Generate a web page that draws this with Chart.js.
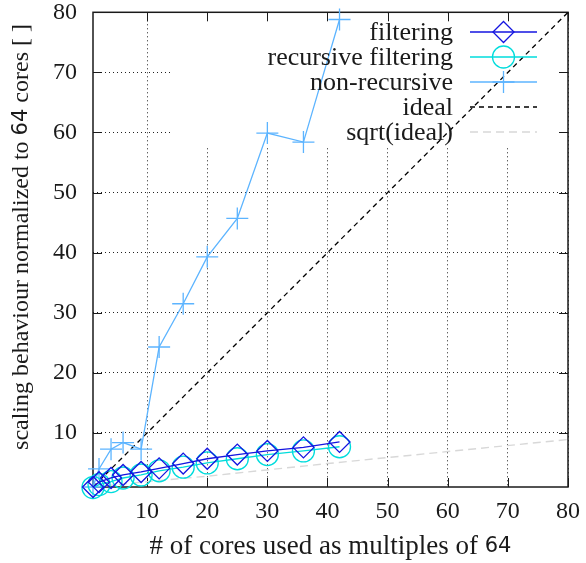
<!DOCTYPE html>
<html>
<head>
<meta charset="utf-8">
<script src="https://cdn.jsdelivr.net/npm/chart.js"></script>
<style>
  html, body { margin: 0; padding: 0; background: #fff; }
  #wrap { width: 586px; height: 563px; }
</style>
</head>
<body>
<div id="wrap"><canvas id="scaling" width="586" height="563"></canvas></div>
<script>
// cores used, as multiples of 64
const cores = [1, 2, 4, 6, 9, 12, 16, 20, 25, 30, 36, 42]
const filtering = [1, 1.8, 2.5, 3.0, 3.5, 4.1, 4.9, 5.7, 6.4, 7.0, 7.6, 8.5]
const recursiveFiltering = [0.9, 1.4, 1.9, 2.5, 3.0, 3.7, 4.3, 5.0, 5.7, 6.4, 7.0, 7.7]
const nonRecursive = [1, 4, 7.3, 8.4, 7.3, 24.3, 31.5, 39.3, 45.7, 59.9, 58.4, 78.8]

// reference lines
const idealX = [1, 80]
const idealY = [1, 80]
const sqrtX = [1, 10, 20, 40, 60, 80]
const sqrtY = [1, 1.9, 2.8, 4.9, 6.9, 8.9]

const xTicks = [10, 20, 30, 40, 50, 60, 70, 80]
const yTicks = [10, 20, 30, 40, 50, 60, 70, 80]

const serif = '"Liberation Serif", "Times New Roman", serif'
const sans = '"DejaVu Sans", sans-serif'
const ink = "#1a1a1a"

const toPoints = (xs, ys) => xs.map((x, i) => ({ x, y: ys[i] }))

const series = (label, color, data, extra = {}) => ({
  label,
  data,
  borderColor: color,
  pointBorderColor: color,
  backgroundColor: "rgba(0,0,0,0)",
  pointBackgroundColor: "rgba(0,0,0,0)",
  borderWidth: 1.3,
  pointBorderWidth: 1.3,
  tension: 0,
  clip: false,
  ...extra,
})

// blanks the grid behind the key, then draws the frame and inward ticks
const framePlugin = {
  id: "frame",
  beforeDatasetsDraw(chart) {
    const { ctx, chartArea: a, scales } = chart
    ctx.save()
    ctx.fillStyle = "#fff"
    ctx.fillRect(170, a.top + 1, a.right - 171, 145 - a.top)

    ctx.strokeStyle = ink
    ctx.lineWidth = 1.5
    ctx.strokeRect(a.left, a.top, a.right - a.left, a.bottom - a.top)

    ctx.lineWidth = 1
    ctx.beginPath()
    xTicks.forEach((v) => {
      const px = Math.round(scales.x.getPixelForValue(v)) + 0.5
      ctx.moveTo(px, a.bottom)
      ctx.lineTo(px, a.bottom - 9)
      ctx.moveTo(px, a.top)
      ctx.lineTo(px, a.top + 9)
    })
    yTicks.forEach((v) => {
      const py = Math.round(scales.y.getPixelForValue(v)) + 0.5
      ctx.moveTo(a.left, py)
      ctx.lineTo(a.left + 9, py)
      ctx.moveTo(a.right, py)
      ctx.lineTo(a.right - 9, py)
    })
    ctx.stroke()
    ctx.restore()
  },
}

// gnuplot style key: text right aligned, sample on the right
const keyPlugin = {
  id: "key",
  afterDatasetsDraw(chart) {
    const { ctx } = chart
    ctx.save()
    ctx.font = `26px ${serif}`
    ctx.textAlign = "right"
    ctx.textBaseline = "middle"
    chart.data.datasets.forEach((ds, i) => {
      const y = 32 + i * 25
      ctx.fillStyle = ink
      ctx.fillText(ds.label, 453, y + 1)
      ctx.strokeStyle = ds.borderColor
      ctx.lineWidth = ds.borderWidth
      ctx.setLineDash(ds.borderDash || [])
      ctx.beginPath()
      ctx.moveTo(470, y)
      ctx.lineTo(537, y)
      ctx.stroke()
      ctx.setLineDash([])
      if (ds.pointRadius) {
        ctx.fillStyle = "rgba(0,0,0,0)"
        ctx.lineWidth = ds.pointBorderWidth
        Chart.helpers.drawPoint(ctx, {
          pointStyle: ds.pointStyle,
          radius: ds.pointRadius,
          rotation: 0,
          borderWidth: ds.pointBorderWidth,
        }, 503.5, y)
      }
    })
    ctx.restore()
  },
}

// axis titles, "64" set in sans like the original
const titlePlugin = {
  id: "titles",
  afterDraw(chart) {
    const { ctx, chartArea: a } = chart
    const drawMixed = (parts, cx, cy) => {
      const widths = parts.map(([t, f]) => { ctx.font = f; return ctx.measureText(t).width })
      let x = cx - widths.reduce((s, w) => s + w, 0) / 2
      parts.forEach(([t, f], i) => {
        ctx.font = f
        ctx.fillText(t, x, cy)
        x += widths[i]
      })
    }
    ctx.save()
    ctx.fillStyle = ink
    ctx.textAlign = "left"
    ctx.textBaseline = "middle"
    drawMixed([["# of cores used as multiples of ", `27px ${serif}`], ["64", `21px ${sans}`]],
      (a.left + a.right) / 2, 547)
    ctx.translate(22, 237)
    ctx.rotate(-Math.PI / 2)
    drawMixed([["scaling behaviour normalized to ", `24px ${serif}`], ["64", `21px ${sans}`],
      [" cores [ ]", `24px ${serif}`]], 0, 0)
    ctx.restore()
  },
}

const axis = (ticks, fit, padding) => ({
  type: "linear",
  min: 1,
  max: 80,
  afterBuildTicks: (s) => { s.ticks = ticks.map((value) => ({ value })) },
  afterFit: fit,
  grid: { color: "#222", lineWidth: 1, drawTicks: false },
  border: { display: false, dash: [1, 3] },
  ticks: {
    font: { family: serif, size: 24 },
    color: ink,
    padding,
    maxRotation: 0,
    autoSkip: false,
  },
})

new Chart(document.getElementById("scaling").getContext("2d"), {
  type: "line",
  data: {
    datasets: [
      series("filtering", "#1414e0", toPoints(cores, filtering),
        { pointStyle: "rectRot", pointRadius: 10.5 }),
      series("recursive filtering", "#00dcdc", toPoints(cores, recursiveFiltering),
        { pointStyle: "circle", pointRadius: 11 }),
      series("non-recursive", "#5cb4ff", toPoints(cores, nonRecursive),
        { pointStyle: "cross", pointRadius: 11 }),
      series("ideal", "#000", toPoints(idealX, idealY),
        { pointRadius: 0, borderWidth: 1.3, borderDash: [5, 4] }),
      series("sqrt(ideal)", "#d8d8d8", toPoints(sqrtX, sqrtY),
        { pointRadius: 0, borderWidth: 1.4, borderDash: [8, 5] }),
    ],
  },
  options: {
    responsive: false,
    animation: false,
    layout: { padding: { top: 12, right: 18, left: 0, bottom: 0 } },
    plugins: {
      legend: { display: false },
      tooltip: { enabled: false },
    },
    scales: {
      x: axis(xTicks, (s) => {
        s.height = 76
        s.paddingLeft = 0
        s.paddingRight = 0
      }, 10),
      y: axis(yTicks, (s) => {
        s.width = 93
        s.paddingTop = 0
        s.paddingBottom = 0
      }, 16),
    },
  },
  plugins: [framePlugin, keyPlugin, titlePlugin],
})
</script>
</body>
</html>
